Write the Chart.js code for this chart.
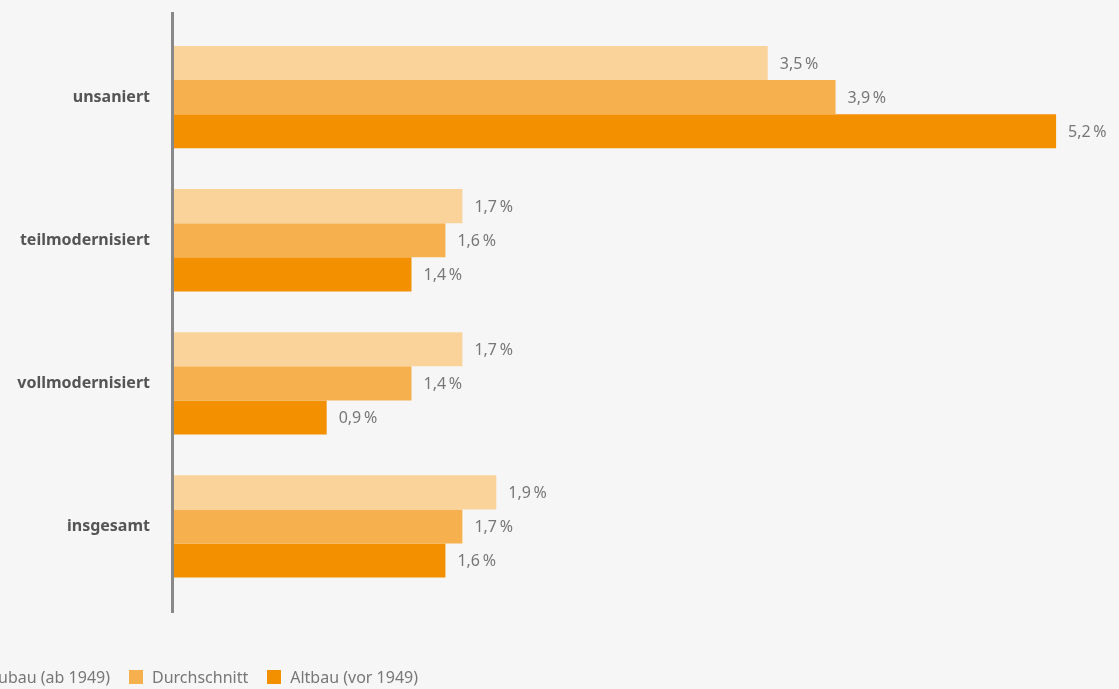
<!DOCTYPE html>
<html lang="de">
<head>
<meta charset="utf-8">
<title>Sanierungsstand</title>
<script src="https://cdn.jsdelivr.net/npm/chart.js@4.4.1/dist/chart.umd.min.js"></script>
<style>
  html, body { margin:0; padding:0; background:#f6f6f6; overflow:hidden; }
  #wrap { position:relative; width:1119px; height:689px; }
  #chart { position:absolute; left:0; top:0; }
  #legend { position:absolute; top:666px; left:0; display:flex; align-items:center; white-space:nowrap;
    font-family:'Noto Sans', sans-serif; font-size:16px; color:#777; }
  .item { display:flex; align-items:center; margin-right:19px; }
  .box { width:14px; height:14px; margin-right:9px; }
</style>
</head>
<body>
<div id="wrap">
  <canvas id="chart" width="1119" height="689"></canvas>
  <div id="legend"></div>
</div>
<script>
  const categories = ['unsaniert', 'teilmodernisiert', 'vollmodernisiert', 'insgesamt'];
  const seriesNames = ['Neubau (ab 1949)', 'Durchschnitt', 'Altbau (vor 1949)'];
  const neubau = [3.5, 1.7, 1.7, 1.9];
  const durchschnitt = [3.9, 1.6, 1.4, 1.7];
  const altbau = [5.2, 1.4, 0.9, 1.6];
  const colors = ['#fad39b', '#f6b04e', '#f39000'];

  const fmt = v => v.toFixed(1).replace('.', ',') + '\u202F%';

  // value labels right of each bar
  const valueLabels = {
    id: 'valueLabels',
    afterDatasetsDraw(chart){
      const ctx = chart.ctx;
      ctx.save();
      ctx.font = '16px "Noto Sans", sans-serif';
      ctx.fillStyle = '#777';
      ctx.textAlign = 'left';
      ctx.textBaseline = 'middle';
      chart.data.datasets.forEach((ds, i) => {
        chart.getDatasetMeta(i).data.forEach((bar, j) => {
          ctx.fillText(fmt(ds.data[j]), bar.x + 12, bar.y + 1);
        });
      });
      ctx.restore();
    }
  };

  // vertical axis line, a bit longer than the plot area
  const axisLine = {
    id: 'axisLine',
    afterDraw(chart){
      const a = chart.chartArea, ctx = chart.ctx;
      ctx.save();
      ctx.strokeStyle = '#898989';
      ctx.lineWidth = 3;
      ctx.beginPath();
      ctx.moveTo(a.left - 1.5, 12);
      ctx.lineTo(a.left - 1.5, 613);
      ctx.stroke();
      ctx.restore();
    }
  };

  const data = [neubau, durchschnitt, altbau];
  new Chart(document.getElementById('chart').getContext('2d'), {
    type: 'bar',
    data: {
      labels: categories,
      datasets: seriesNames.map((n, i) => ({
        label: n, data: data[i], backgroundColor: colors[i],
        borderWidth: 0, barPercentage: 1, categoryPercentage: 0.715
      }))
    },
    options: {
      indexAxis: 'y',
      responsive: false,
      animation: false,
      layout: { padding: { top: 22, bottom: 91, left: 0, right: 12 } },
      plugins: { legend: { display: false }, tooltip: { enabled: false } },
      scales: {
        x: { display: false, min: 0, max: 5.5 },
        y: {
          grid: { display: false },
          border: { display: false },
          ticks: { color: '#555', padding: 16, font: { family: '"Noto Sans", sans-serif', size: 16, weight: 'bold' } },
          afterFit(scale){ scale.width = 174; }
        }
      }
    },
    plugins: [valueLabels, axisLine]
  });

  // legend (first item runs off the left edge as in the original)
  const legend = document.getElementById('legend');
  seriesNames.forEach((n, i) => {
    const it = document.createElement('div');
    it.className = 'item';
    it.innerHTML = '<span class="box" style="background:' + colors[i] + '"></span><span>' + n + '</span>';
    legend.appendChild(it);
  });
  const first = legend.firstChild;
  legend.style.left = (110 - first.getBoundingClientRect().width) + 'px';
</script>
</body>
</html>
